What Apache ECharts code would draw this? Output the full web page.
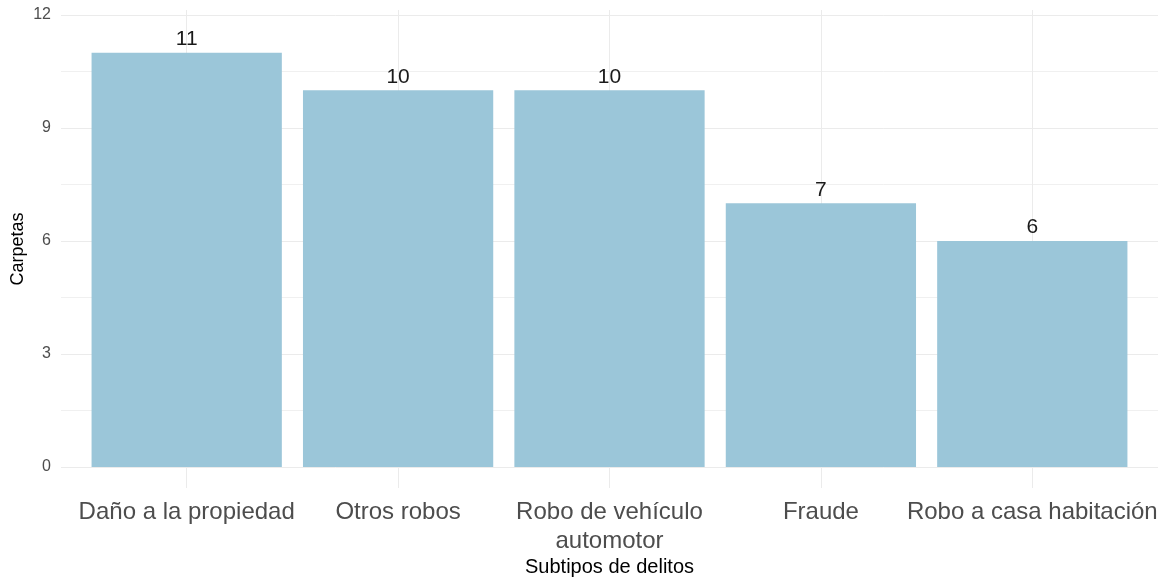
<!DOCTYPE html>
<html>
<head>
<meta charset="utf-8">
<script src="https://cdn.jsdelivr.net/npm/echarts@6/dist/echarts.min.js"></script>
<style>
  html, body { margin: 0; padding: 0; background: #fff; }
  #main { width: 1165px; height: 577px; }
</style>
</head>
<body>
<div id="main"></div>
<script>
// datos del grafico
var categorias = ['Daño a la propiedad', 'Otros robos', 'Robo de vehículo automotor', 'Fraude', 'Robo a casa habitación'];
var carpetas = [11, 10, 10, 7, 6];
var ticksY = [0, 3, 6, 9, 12];

// partir etiquetas largas (como str_wrap)
function envolver(txt){
    if (txt.length <= 25) return txt;
    var corte = txt.lastIndexOf(' ', 25);
    return txt.slice(0, corte) + '\n' + txt.slice(corte + 1);
}

var myChart = echarts.init(document.getElementById('main'));

option = {
    backgroundColor: '#ffffff',
    animation: false,
    grid: [
        // fondo con lineas horizontales (panel completo)
        { left: 61, right: 7, top: 15, bottom: 110, containLabel: false, outerBoundsMode: 'none' },
        // barras
        { left: 81, right: 27, top: 10, bottom: 89, containLabel: false, outerBoundsMode: 'none' }
    ],
    xAxis: [
        { gridIndex: 0, type: 'value', show: false, min: 0, max: 1 },
        {
            gridIndex: 1,
            type: 'category',
            data: categorias,
            name: 'Subtipos de delitos',
            nameLocation: 'middle',
            nameGap: 69,
            nameMoveOverlap: false,
            nameTextStyle: { color: '#000000', fontSize: 20, fontFamily: 'Liberation Sans' },
            axisLine: { show: false, onZero: false },
            axisTick: { show: false },
            axisLabel: {
                interval: 0,
                margin: 10,
                color: '#4d4d4d',
                fontSize: 24,
                lineHeight: 29,
                fontFamily: 'Liberation Sans',
                formatter: envolver
            },
            splitLine: {
                show: true,
                alignWithLabel: true,
                lineStyle: { color: '#ebebeb', width: 1 }
            }
        }
    ],
    yAxis: [
        {
            gridIndex: 0,
            type: 'value',
            min: ticksY[0],
            max: ticksY[ticksY.length - 1],
            interval: 3,
            axisLine: { show: false },
            axisTick: { show: false },
            axisLabel: { color: '#4d4d4d', fontSize: 16, margin: 10, fontFamily: 'Liberation Sans' },
            splitLine: { lineStyle: { color: '#ebebeb', width: 1 } },
            minorTick: { show: false, splitNumber: 2 },
            minorSplitLine: { show: true, lineStyle: { color: '#f0f0f0', width: 1 } }
        },
        {
            gridIndex: 1,
            type: 'value',
            min: -0.557,
            max: 12.133,
            name: 'Carpetas',
            nameLocation: 'middle',
            nameGap: 54,
            nameMoveOverlap: false,
            nameTextStyle: { color: '#000000', fontSize: 18, fontFamily: 'Liberation Sans' },
            axisLine: { show: false },
            axisTick: { show: false },
            axisLabel: { show: false },
            splitLine: { show: false }
        }
    ],
    series: [
        {
            type: 'bar',
            xAxisIndex: 1,
            yAxisIndex: 1,
            barCategoryGap: '10%',
            itemStyle: { color: '#9bc6d9' },
            label: {
                show: true,
                position: 'top',
                distance: 3,
                color: '#1a1a1a',
                fontSize: 21,
                fontFamily: 'Liberation Sans'
            },
            data: carpetas
        }
    ]
};

myChart.setOption(option);
</script>
</body>
</html>
